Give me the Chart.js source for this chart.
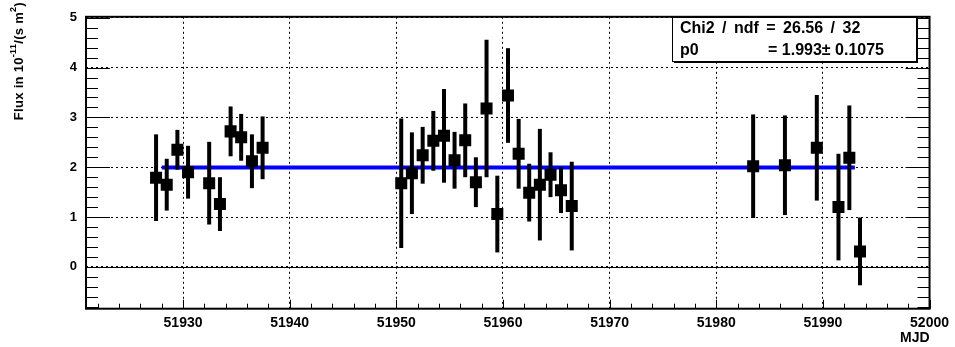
<!DOCTYPE html>
<html>
<head>
<meta charset="utf-8">
<script src="https://cdn.jsdelivr.net/npm/chart.js@4.4.0/dist/chart.umd.min.js"></script>
<style>
  html, body { margin: 0; padding: 0; background: #fff; }
  #wrap { width: 955px; height: 347px; }
</style>
</head>
<body>
<div id="wrap"><canvas id="lc" width="955" height="347"></canvas></div>
<script>
// light curve points (MJD, flux in 1e-11 /(s m^2), error)
const mjd = [51927.47, 51928.47, 51929.47, 51930.47, 51932.45, 51933.46, 51934.46, 51935.45, 51936.46, 51937.46,
             51950.46, 51951.46, 51952.47, 51953.47, 51954.47, 51955.46, 51956.46, 51957.46, 51958.46, 51959.47,
             51960.47, 51961.47, 51962.46, 51963.46, 51964.46, 51965.44, 51966.45,
             51983.46, 51986.44, 51989.43, 51991.46, 51992.48, 51993.48];
const flux = [1.79, 1.65, 2.35, 1.90, 1.68, 1.26, 2.72, 2.60, 2.12, 2.39,
              1.68, 1.88, 2.24, 2.53, 2.63, 2.14, 2.54, 1.70, 3.18, 1.06,
              3.44, 2.27, 1.49, 1.65, 1.85, 1.54, 1.22,
              2.02, 2.04, 2.39, 1.20, 2.19, 0.31];
const fluxErr = [0.87, 0.52, 0.40, 0.53, 0.83, 0.54, 0.50, 0.47, 0.54, 0.63,
                 1.30, 0.82, 0.57, 0.60, 0.94, 0.57, 0.74, 0.50, 1.38, 0.77,
                 0.95, 0.70, 0.58, 1.12, 0.45, 0.46, 0.89,
                 1.04, 1.00, 1.06, 1.07, 1.05, 0.68];

// constant fit
const fitRange = [51928, 51993];
const p0 = 1.993;
const p0Err = 0.1075;
const chi2 = '26.56';
const ndf = 32;

const xTicks = [51930, 51940, 51950, 51960, 51970, 51980, 51990, 52000];
const yTicks = [0, 1, 2, 3, 4, 5];
const xRange = [51920.9, 52000];
const yRange = [-0.84, 5.02];

const FONT = '"Liberation Sans", Arial, Helvetica, sans-serif';

const rootPlugin = {
  id: 'rootStyle',
  afterDatasetsDraw(chart) {
    const {ctx, scales: {x, y}, chartArea: a} = chart;
    ctx.save();
    // zero line
    ctx.strokeStyle = '#000';
    ctx.lineWidth = 1;
    ctx.beginPath();
    const y0 = Math.round(y.getPixelForValue(0)) + 0.5;
    ctx.moveTo(a.left, y0); ctx.lineTo(a.right, y0);
    ctx.stroke();
    // error bars
    ctx.lineWidth = 4;
    ctx.lineCap = 'butt';
    for (let i = 0; i < mjd.length; i++) {
      const px = x.getPixelForValue(mjd[i]);
      ctx.beginPath();
      ctx.moveTo(px, y.getPixelForValue(flux[i] - fluxErr[i]));
      ctx.lineTo(px, y.getPixelForValue(flux[i] + fluxErr[i]));
      ctx.stroke();
    }
    ctx.restore();
  },
  afterDraw(chart) {
    const {ctx, scales: {x, y}, chartArea: a} = chart;
    ctx.save();
    ctx.strokeStyle = '#000';
    // ticks
    ctx.lineWidth = 1;
    ctx.beginPath();
    for (let k = -4; k <= 25; k++) {
      const v = k / 5;
      const py = Math.round(y.getPixelForValue(v)) + 0.5;
      const len = (k % 5 === 0) ? 24 : 12;
      ctx.moveTo(a.left, py); ctx.lineTo(a.left + len, py);
      ctx.moveTo(a.right, py); ctx.lineTo(a.right - len, py);
    }
    for (let d = 51922; d <= 52000; d += 2) {
      const px = Math.round(x.getPixelForValue(d)) + 0.5;
      const len = (d % 10 === 0) ? 9 : 5;
      ctx.moveTo(px, a.bottom); ctx.lineTo(px, a.bottom - len);
    }
    ctx.stroke();
    // frame
    ctx.lineWidth = 2;
    ctx.strokeRect(a.left, a.top, a.right - a.left, a.bottom - a.top);

    // y title with superscripts
    ctx.fillStyle = '#000';
    ctx.translate(19, 2);
    ctx.rotate(-Math.PI / 2);
    ctx.textBaseline = 'middle';
    ctx.letterSpacing = '0.3px';
    const big = 'bold 13px ' + FONT, small = 'bold 9px ' + FONT;
    const parts = [['Flux in 10', big, 0], ['-11', small, -5], ['/(s m', big, 0], ['2', small, -5], [')', big, 0]];
    let total = 0;
    parts.forEach(p => { ctx.font = p[1]; total += ctx.measureText(p[0]).width; });
    let cx = -total;
    parts.forEach(p => { ctx.font = p[1]; ctx.fillText(p[0], cx, p[2]); cx += ctx.measureText(p[0]).width; });
    ctx.setTransform(1, 0, 0, 1, 0, 0);

    // fit statistics box
    const bx = 672, by = 17, bw = 244, bh = 44;
    ctx.fillStyle = '#000';
    ctx.fillRect(bx + 2, by + 2, bw, bh);
    ctx.fillStyle = '#fff';
    ctx.fillRect(bx, by, bw, bh);
    ctx.lineWidth = 1;
    ctx.strokeRect(bx + 0.5, by + 0.5, bw, bh);
    ctx.fillStyle = '#000';
    ctx.textBaseline = 'alphabetic';
    ctx.font = 'bold 16px ' + FONT;
    ctx.letterSpacing = '0px';
    ctx.wordSpacing = '3px';
    ctx.fillText('Chi2 / ndf = ' + chi2 + ' / ' + ndf, 680, 33);
    ctx.wordSpacing = '0px';
    ctx.fillText('p0', 680, 55);
    ctx.fillText('= ' + p0.toFixed(3) + '\u00b1 ' + p0Err, 768, 55);
    ctx.restore();
  }
};

const tickFont = size => ({family: FONT, size: size, weight: 'bold'});

new Chart(document.getElementById('lc'), {
  type: 'scatter',
  data: {
    datasets: [
      {
        type: 'line',
        data: fitRange.map(v => ({x: v, y: p0})),
        borderColor: '#0000ff',
        borderWidth: 4,
        pointRadius: 0,
        order: 2
      },
      {
        data: mjd.map((v, i) => ({x: v, y: flux[i]})),
        pointStyle: 'rect',
        pointRadius: 8.5,
        pointBorderWidth: 0,
        backgroundColor: '#000',
        borderColor: '#000',
        order: 1
      }
    ]
  },
  options: {
    responsive: false,
    animation: false,
    events: [],
    layout: {padding: {left: 0, right: 23, top: 9, bottom: 0}},
    plugins: {legend: {display: false}, tooltip: {enabled: false}},
    scales: {
      x: {
        type: 'linear',
        min: xRange[0],
        max: xRange[1],
        afterBuildTicks: s => { s.ticks = xTicks.map(v => ({value: v})); },
        afterFit: s => { s.height = 38.3; },
        grid: {color: '#000', lineWidth: 1, drawTicks: false},
        border: {display: false, dash: [2, 3]},
        ticks: {
          callback: v => String(v),
          font: tickFont(14),
          color: '#000',
          padding: 6,
          maxRotation: 0,
          autoSkip: false
        },
        title: {display: true, text: 'MJD', align: 'end', color: '#000', font: tickFont(14), padding: {top: 0, bottom: 0}}
      },
      y: {
        min: yRange[0],
        max: yRange[1],
        afterBuildTicks: s => { s.ticks = yTicks.map(v => ({value: v})); },
        afterFit: s => { s.width = 86; },
        grid: {color: '#000', lineWidth: 1, drawTicks: false},
        border: {display: false, dash: [2, 3]},
        ticks: {
          font: tickFont(13),
          color: '#000',
          padding: 9
        }
      }
    }
  },
  plugins: [rootPlugin]
});
</script>
</body>
</html>
